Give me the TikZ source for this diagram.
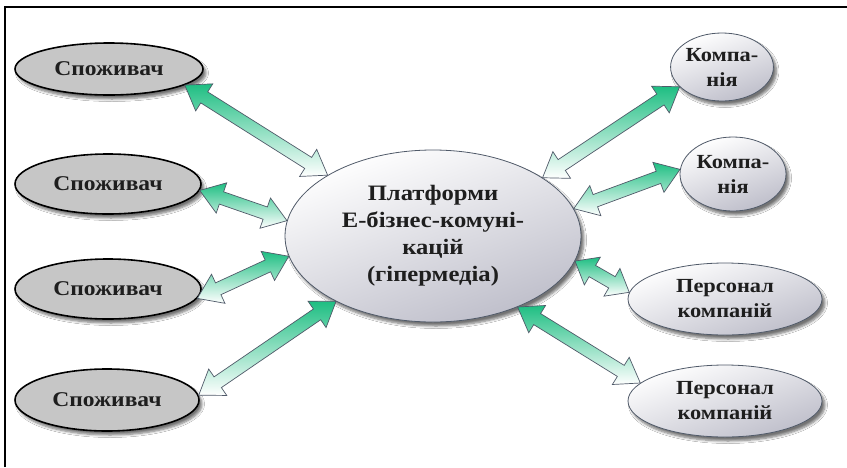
\documentclass[tikz,border=0pt]{standalone}
\usepackage{fontspec}
\setmainfont{Liberation Serif}
\newfontfamily\diagfont[FakeStretch=1.12]{Liberation Serif}
\usetikzlibrary{shapes.geometric,calc,shadows.blur}
\definecolor{agreen}{RGB}{30,190,130}
\definecolor{aedge}{RGB}{80,90,105}
\definecolor{lgray}{RGB}{198,198,198}
\definecolor{dgray}{RGB}{190,190,202}
\definecolor{txt}{RGB}{30,30,30}

\tikzset{
  shadowstyle/.style={blur shadow={shadow xshift=3pt, shadow yshift=-4pt, shadow blur steps=6, shadow blur radius=2.5pt, shadow opacity=55}},
  consumer/.style={ellipse, draw=black, line width=1.6pt, fill=lgray, inner sep=0pt,
    shadowstyle, text=txt, font=\diagfont\bfseries\fontsize{21}{24}\selectfont},
  lightnode/.style={ellipse, draw=aedge, line width=0.8pt, top color=white, bottom color=dgray,
    shading angle=20, inner sep=0pt, align=center, shadowstyle, text=txt,
    font=\diagfont\bfseries\fontsize{20}{25}\selectfont},
  centernode/.style={lightnode, font=\diagfont\bfseries\fontsize{22}{27}\selectfont},
  arrowshape/.style={draw=aedge, line width=0.7pt, top color=agreen, middle color=agreen!30!white, bottom color=white},
  frameline/.style={line width=2.4pt, black}
}

\newcommand{\blockarrow}[3][23pt]{%
  \coordinate (pA) at (#2);
  \coordinate (pB) at (#3);
  \coordinate (h1) at ($(pA)!#1!(pB)$);
  \coordinate (h2) at ($(pB)!#1!(pA)$);
  \path[arrowshape] (pA) -- ($(h1)!16pt!90:(pB)$) -- ($(h1)!6.5pt!90:(pB)$)
    -- ($(h2)!6.5pt!-90:(pA)$) -- ($(h2)!16pt!-90:(pA)$) -- (pB)
    -- ($(h2)!16pt!90:(pA)$) -- ($(h2)!6.5pt!90:(pA)$)
    -- ($(h1)!6.5pt!-90:(pB)$) -- ($(h1)!16pt!-90:(pB)$) -- cycle;
}

\begin{document}
\begin{tikzpicture}[x=1pt,y=-1pt]
\useasboundingbox[fill=white] (0,0) rectangle (847,467);

% frame
\coordinate (fTL) at (5,7);
\coordinate (fBL) at (5,467);
\coordinate (fTR) at (847,7);
\draw[frameline] (fBL) -- (fTL) -- (fTR);

% consumers
\node[consumer, minimum width=188pt, minimum height=52pt] (s1) at (109,69) {Споживач};
\node[consumer, minimum width=186pt, minimum height=60pt] (s2) at (108,184) {Споживач};
\node[consumer, minimum width=186pt, minimum height=60pt] (s3) at (108,289) {Споживач};
\node[consumer, minimum width=184pt, minimum height=62pt] (s4) at (107,400) {Споживач};

% center
\node[centernode, minimum width=296pt, minimum height=172pt] (c) at (433,236)
  {\raisebox{-4pt}{\begin{tabular}{@{}c@{}}Платформи\\Е-бізнес-комуні-\\кацій\\(гіпермедіа)\end{tabular}}};

% right side
\node[lightnode, minimum width=100pt, minimum height=68pt] (k1) at (722,67) {Компа-\\нія};
\node[lightnode, minimum width=106pt, minimum height=74pt] (k2) at (733,174) {Компа-\\нія};
\node[lightnode, minimum width=194pt, minimum height=72pt] (p1) at (725,299) {Персонал\\компаній};
\node[lightnode, minimum width=194pt, minimum height=72pt] (p2) at (725,401) {Персонал\\компаній};

% arrows
\blockarrow{s1.-12}{c.150}
\blockarrow{s2.-4}{c.174}
\blockarrow{c.188}{s3.-6}
\blockarrow{c.214}{s4.3}
\blockarrow{k1.205}{c.28}
\blockarrow{k2.175}{c.11}
\blockarrow[20pt]{c.-10}{p1.176}
\blockarrow{c.-40}{p2.168}
\end{tikzpicture}
\end{document}
